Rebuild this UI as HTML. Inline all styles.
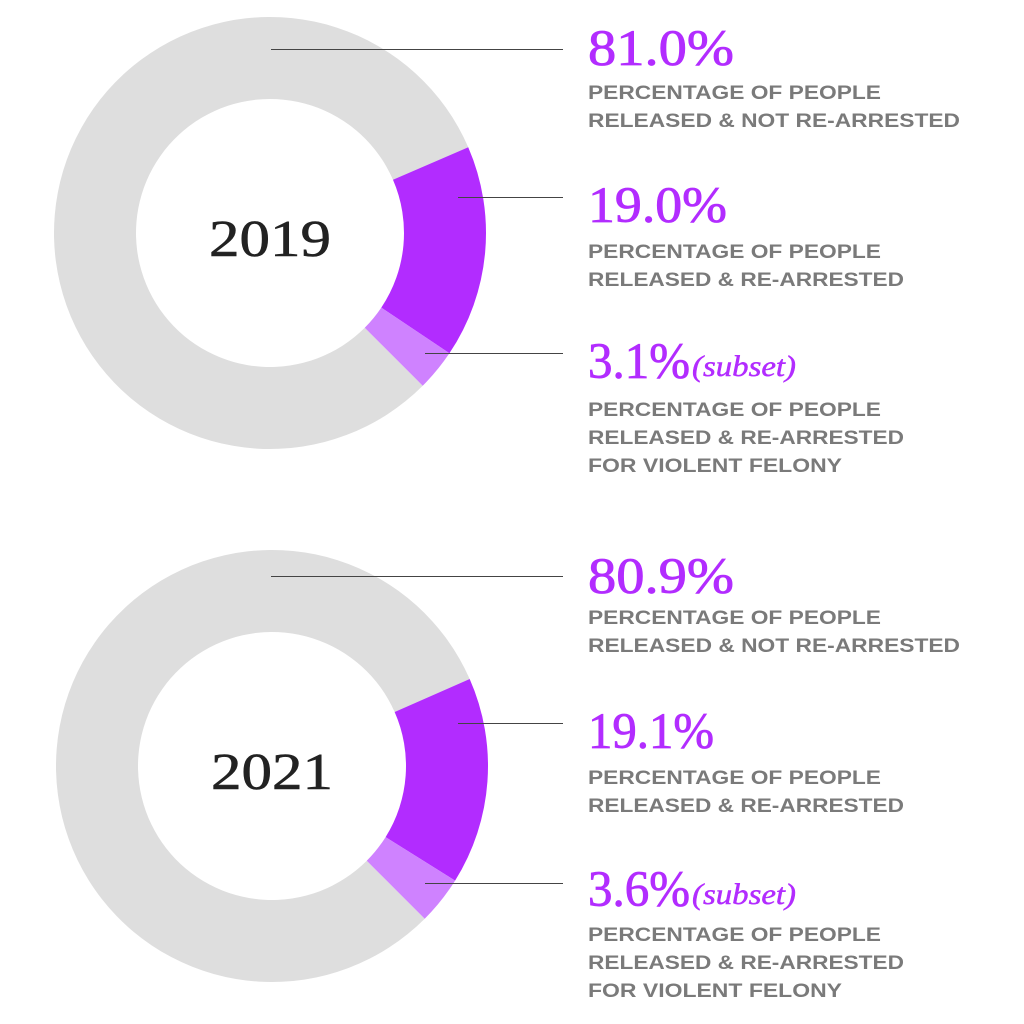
<!DOCTYPE html>
<html><head><meta charset="utf-8"><style>
html,body{margin:0;padding:0;background:#fff;}
svg{display:block;}
.big{font-family:"Liberation Serif",serif;font-size:51px;fill:#b22cff;stroke:#b22cff;stroke-width:0.8px;}
.sub{font-family:"Liberation Serif",serif;font-style:italic;font-size:30px;fill:#b22cff;stroke:#b22cff;stroke-width:0.5px;}
.lbl{font-family:"Liberation Sans",sans-serif;font-weight:bold;font-size:19px;fill:#7a7a7a;}
.yr{font-family:"Liberation Serif",serif;font-size:52px;fill:#222;stroke:#222;stroke-width:0.6px;}
</style></head><body>
<svg id="chart" width="1024" height="1024" viewBox="0 0 1024 1024"></svg>
<script>
const years = ["2019", "2021"];
const notRearrested = [81.0, 80.9];
const rearrested = [19.0, 19.1];
const violentSubset = [3.1, 3.6];
const NS = "http://www.w3.org/2000/svg";
const svg = document.getElementById("chart");
const centers = [[270, 233], [272, 766]];
const R = 216, r = 134, END = 135;
function pt(cx, cy, rad, deg) { const a = (deg - 90) * Math.PI / 180; return [cx + rad * Math.cos(a), cy + rad * Math.sin(a)]; }
function arc(cx, cy, a0, a1) {
  const large = (a1 - a0) > 180 ? 1 : 0;
  const p0 = pt(cx, cy, R, a0), p1 = pt(cx, cy, R, a1), q1 = pt(cx, cy, r, a1), q0 = pt(cx, cy, r, a0);
  return `M${p0} A${R},${R} 0 ${large} 1 ${p1} L${q1} A${r},${r} 0 ${large} 0 ${q0}Z`;
}
function add(tag, attrs, parent) { const e = document.createElementNS(NS, tag); for (const k in attrs) e.setAttribute(k, attrs[k]); (parent || svg).appendChild(e); return e; }
function txt(x, y, cls, s, len) { const t = add("text", { x: x, y: y, class: cls }); if (len) { t.setAttribute("textLength", len); t.setAttribute("lengthAdjust", "spacingAndGlyphs"); } t.textContent = s; return t; }
const lineYs = [[49, 197, 353], [576, 723, 883]];
const bases = [[65, 222, 378], [593, 748, 906]];
const lblYs = [[99, 127, 258, 286, 416, 444, 472], [624, 652, 784, 812, 941, 969, 997]];
years.forEach((yr, i) => {
  const [cx, cy] = centers[i];
  const pStart = END - rearrested[i] * 3.6;
  const vStart = END - violentSubset[i] * 3.6;
  const g = add("path", { d: arc(cx, cy, END, pStart + 360), fill: "#dedede" });
  
  
  const p = add("path", { d: arc(cx, cy, pStart, vStart), fill: "#b22cff" });
  
  
  const v = add("path", { d: arc(cx, cy, vStart, END), fill: "#cf82ff" });
  
  
  const y = txt(cx, cy + 23, "yr", yr, 122); y.setAttribute("text-anchor", "middle");
  
  
  const xs = [271, 458, 425];
  lineYs[i].forEach((ly, j) => {
    const ln = add("line", { x1: xs[j], x2: 563, y1: ly + 0.5, y2: ly + 0.5, stroke: "#444", "stroke-width": 1 });
    
    
  });
  const base = bases[i];
  const n1 = txt(588, base[0], "big", notRearrested[i].toFixed(1) + "%", 146);
  
  
  const n2 = txt(588, base[1], "big", rearrested[i].toFixed(1) + "%", i ? 126 : 139);
  
  
  const n3 = txt(588, base[2], "big", violentSubset[i].toFixed(1) + "%", 102);
  
  
  const s = txt(692, base[2] - 2, "sub", "(subset)", 104);
  
  
  const ly = lblYs[i];
  const L = [
    [ly[0], "PERCENTAGE OF PEOPLE", 293], [ly[1], "RELEASED & NOT RE-ARRESTED", 372],
    [ly[2], "PERCENTAGE OF PEOPLE", 293], [ly[3], "RELEASED & RE-ARRESTED", 316],
    [ly[4], "PERCENTAGE OF PEOPLE", 293], [ly[5], "RELEASED & RE-ARRESTED", 316], [ly[6], "FOR VIOLENT FELONY", 254]
  ];
  L.forEach(l => {
    const t = txt(588, l[0], "lbl", l[1], l[2]);
    
    
  });
});
</script>
</body></html>
